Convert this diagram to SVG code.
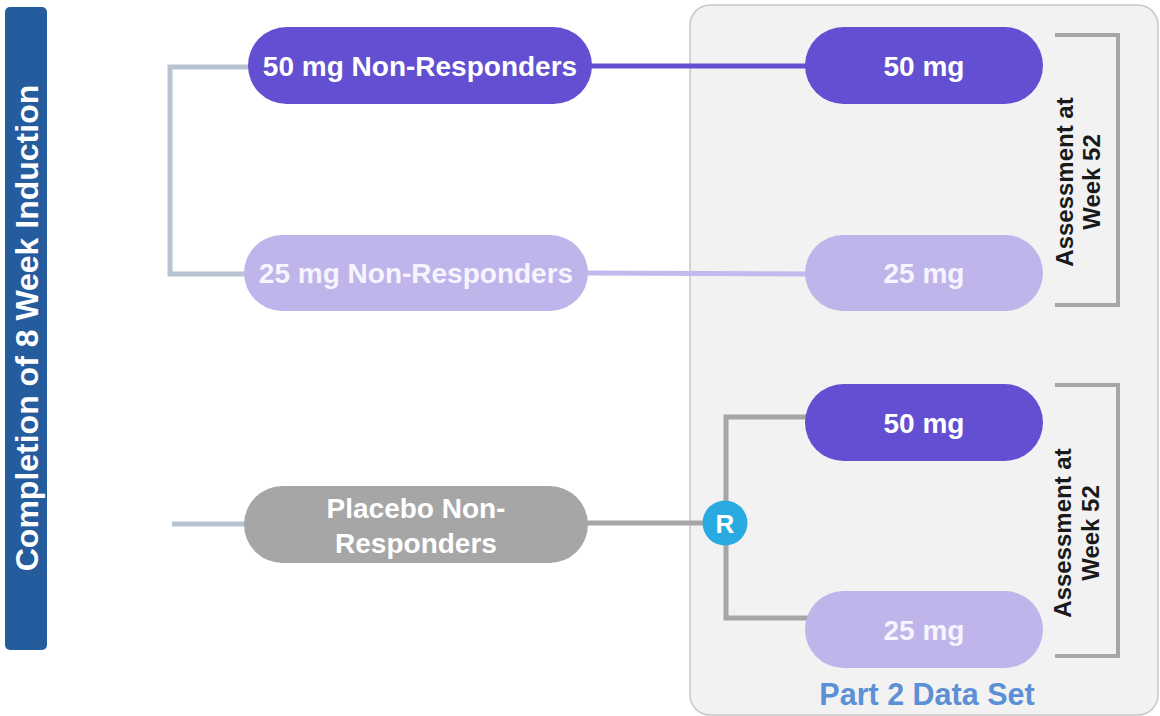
<svg xmlns="http://www.w3.org/2000/svg" width="1160" height="716" viewBox="0 0 1160 716">
<style>
.t{font-family:"Liberation Sans",Arial,sans-serif;font-weight:bold;}
.nt{font-size:28px;fill:#ffffff;text-anchor:middle;}
.lt{font-size:28px;fill:#f6f4ff;text-anchor:middle;}
.as{font-size:24px;fill:#1a1a1a;text-anchor:middle;}
.dark{fill:#624fd1;}
.light{fill:#bfb5ea;}
.grey{fill:#a6a6a6;}
.c{fill:none;stroke-width:5;}
.br{fill:none;stroke:#a6a6a6;stroke-width:4;}
</style>
<rect x="0" y="0" width="1160" height="716" fill="#ffffff"/>
<g id="panel">
<rect x="690" y="5" width="468" height="710" rx="20" fill="#f2f2f2" stroke="#c8c8c8" stroke-width="1.5"/>
<text class="t" x="927" y="705" font-size="30.5" fill="#5b8fd6" text-anchor="middle">Part 2 Data Set</text>
</g>
<g id="induction">
<rect x="5" y="7" width="42" height="643" rx="5" fill="#245c9e"/>
<text class="t" transform="translate(38,328) rotate(-90)" font-size="32" fill="#ffffff" text-anchor="middle">Completion of 8 Week Induction</text>
</g>
<g id="connectors">
<path class="c" d="M250,67 H170 V274 H250" stroke="#b8c4d2"/>
<line class="c" x1="590" y1="66" x2="808" y2="66" stroke="#624fd1"/>
<line class="c" x1="586" y1="273" x2="808" y2="274" stroke="#c3b9ec"/>
<line class="c" x1="172" y1="524" x2="246" y2="524" stroke="#b8c4d2"/>
<line class="c" x1="586" y1="523" x2="705" y2="523" stroke="#a6a6a6"/>
<path class="c" d="M808,417 H726 V618 H808" stroke="#a6a6a6"/>
</g>
<g id="n50nr">
<rect class="dark" x="248" y="27" width="344" height="77" rx="38.5"/>
<text class="t nt" x="420" y="76">50 mg Non-Responders</text>
</g>
<g id="n25nr">
<rect class="light" x="244" y="235" width="344" height="76" rx="38"/>
<text class="t lt" x="416" y="283">25 mg Non-Responders</text>
</g>
<g id="nplacebo">
<rect class="grey" x="244" y="486" width="344" height="77" rx="38.5"/>
<text class="t nt" x="416" y="518">Placebo Non-</text>
<text class="t nt" x="416" y="553">Responders</text>
</g>
<g id="n50a">
<rect class="dark" x="805" y="27" width="238" height="77" rx="38.5"/>
<text class="t nt" x="924" y="76">50 mg</text>
</g>
<g id="n25a">
<rect class="light" x="805" y="235" width="238" height="76" rx="38"/>
<text class="t lt" x="924" y="283">25 mg</text>
</g>
<g id="n50b">
<rect class="dark" x="805" y="384" width="238" height="77" rx="38.5"/>
<text class="t nt" x="924" y="433">50 mg</text>
</g>
<g id="n25b">
<rect class="light" x="805" y="591" width="238" height="77" rx="38.5"/>
<text class="t lt" x="924" y="640">25 mg</text>
</g>
<g id="rnode">
<circle cx="725" cy="523" r="22.5" fill="#29abe2"/>
<text class="t" x="725" y="532.5" font-size="26" fill="#ffffff" text-anchor="middle">R</text>
</g>
<g id="assess1">
<path class="br" d="M1055,35 H1118 V305 H1055"/>
<text class="t as" transform="translate(1073,182) rotate(-90)">Assessment at</text>
<text class="t as" transform="translate(1100,182) rotate(-90)">Week 52</text>
</g>
<g id="assess2">
<path class="br" d="M1055,385 H1118 V656 H1055"/>
<text class="t as" transform="translate(1071,533) rotate(-90)">Assessment at</text>
<text class="t as" transform="translate(1099,533) rotate(-90)">Week 52</text>
</g>
</svg>
